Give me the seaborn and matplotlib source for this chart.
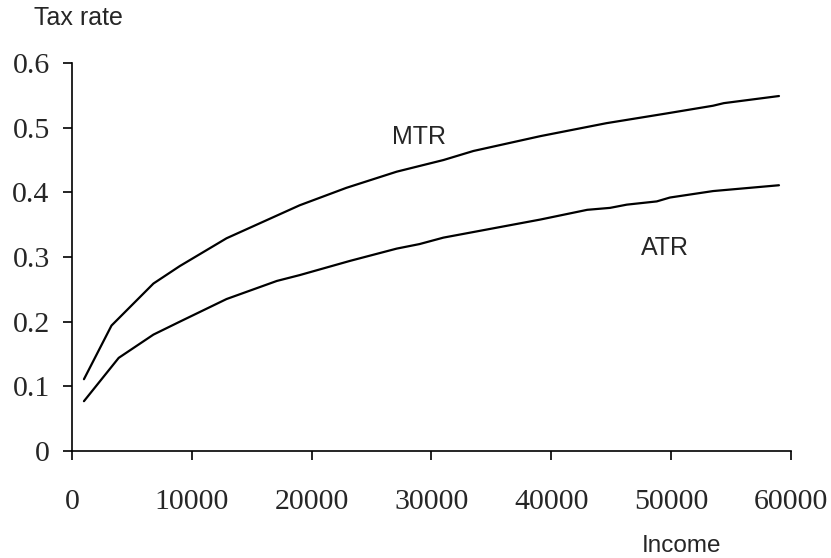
import matplotlib
matplotlib.use("Agg")
import matplotlib.pyplot as plt
import seaborn as sns

# values
mtr_income = [1000, 3300, 6800, 9000, 12900, 19000, 22900, 27100, 31000, 33500,
              39100, 44600, 49600, 53500, 54400, 59000]
mtr_rate = [0.111, 0.194, 0.259, 0.286, 0.329, 0.380, 0.407, 0.432, 0.450, 0.464,
            0.487, 0.507, 0.522, 0.534, 0.538, 0.549]

atr_income = [1000, 3900, 6800, 9000, 12900, 17100, 19000, 23200, 27100, 29000,
              31000, 39100, 43000, 44900, 46300, 48800, 49900, 53500, 59000]
atr_rate = [0.077, 0.144, 0.180, 0.200, 0.235, 0.263, 0.272, 0.294, 0.313, 0.320,
            0.330, 0.358, 0.373, 0.376, 0.381, 0.386, 0.392, 0.402, 0.411]

x_ticks = [0, 10000, 20000, 30000, 40000, 50000, 60000]
y_ticks = [0, 0.1, 0.2, 0.3, 0.4, 0.5, 0.6]

sns.set_style("ticks")
plt.rcParams['font.family'] = ['Liberation Sans', 'DejaVu Sans']

fig = plt.figure(figsize=(8.31, 5.58), dpi=100)
ax = fig.add_axes([0.0866, 0.1918, 0.8652, 0.6952])

sns.lineplot(x=mtr_income, y=mtr_rate, ax=ax, color='black', linewidth=1.6)
sns.lineplot(x=atr_income, y=atr_rate, ax=ax, color='black', linewidth=1.6)

ax.set_xlim(0, 60000)
ax.set_ylim(0, 0.6)
ax.set_xticks(x_ticks)
ax.set_xticklabels([str(t) for t in x_ticks], family='Liberation Serif', fontsize=21.5)
ax.set_yticks(y_ticks)
ax.set_yticklabels(['0'] + ['%.1f' % t for t in y_ticks[1:]], family='Liberation Serif', fontsize=21.5)
ax.tick_params(axis='both', direction='out', length=6.5, width=1.2, color='black')
ax.tick_params(axis='x', pad=21)
ax.tick_params(axis='y', pad=9.5)
sns.despine(ax=ax)
for s in ['left', 'bottom']:
    ax.spines[s].set_color('black')
    ax.spines[s].set_linewidth(1.2)

ax.text(28960, 0.4855, 'MTR', fontsize=18, ha='center', va='center')
ax.text(49500, 0.314, 'ATR', fontsize=18, ha='center', va='center')

fig.text(0.0939, 0.968, 'Tax rate', fontsize=18, ha='center', va='center')
fig.text(0.8195, 0.0215, 'Income', fontsize=17.5, ha='center', va='center')

fig.savefig('out.png', dpi=100)
